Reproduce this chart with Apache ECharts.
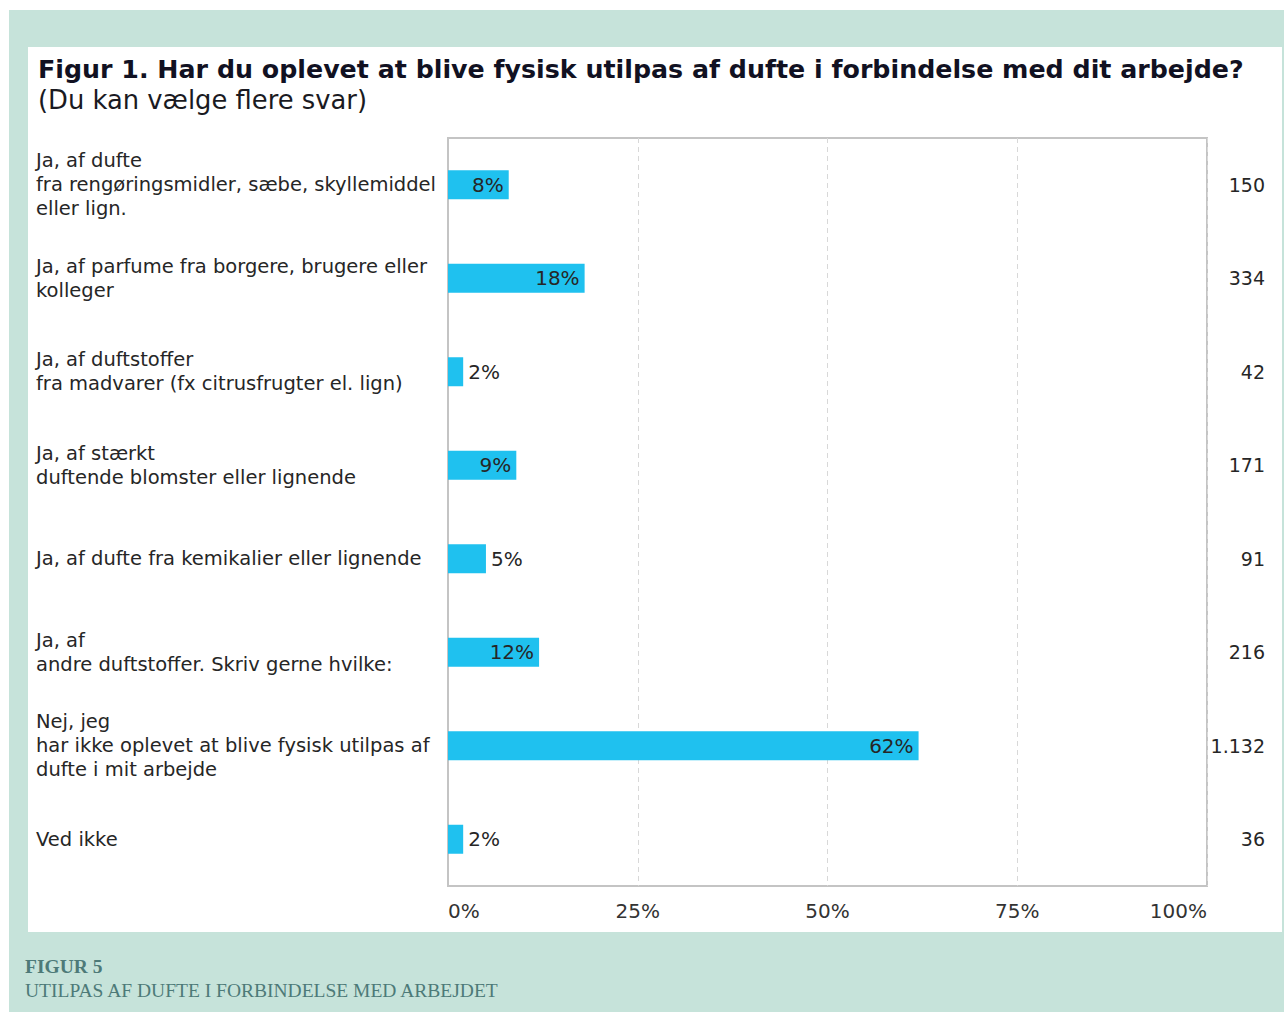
<!DOCTYPE html>
<html>
<head>
<meta charset="utf-8">
<script src="https://cdn.jsdelivr.net/npm/echarts@6/dist/echarts.min.js"></script>
<style>
  html, body { margin: 0; padding: 0; background: #ffffff; }
  #chart { width: 1284px; height: 1012px; }
</style>
</head>
<body>
<div id="chart"></div>
<script>
// Survey answers (several answers allowed)
const categories = [
  'Ja, af dufte\nfra rengøringsmidler, sæbe, skyllemiddel\neller lign.',
  'Ja, af parfume fra borgere, brugere eller\nkolleger',
  'Ja, af duftstoffer\nfra madvarer (fx citrusfrugter el. lign)',
  'Ja, af stærkt\nduftende blomster eller lignende',
  'Ja, af dufte fra kemikalier eller lignende',
  'Ja, af\nandre duftstoffer. Skriv gerne hvilke:',
  'Nej, jeg\nhar ikke oplevet at blive fysisk utilpas af\ndufte i mit arbejde',
  'Ved ikke'
];
// Share of respondents, percent
const percents = [8, 18, 2, 9, 5, 12, 62, 2];
// Number of respondents per answer
const counts = [150, 334, 42, 171, 91, 216, 1132, 36];
const xTicks = [0, 25, 50, 75, 100];

const titleText = 'Figur 1. Har du oplevet at blive fysisk utilpas af dufte i forbindelse med dit arbejde?';
const subtitleText = '(Du kan vælge flere svar)';
const captionHead = 'FIGUR 5';
const captionText = 'UTILPAS AF DUFTE I FORBINDELSE MED ARBEJDET';

const fmtCount = n => n.toLocaleString('da-DK');
const FONT = '"DejaVu Sans", Verdana, sans-serif';
const TEXT = '#262626';

const chart = echarts.init(document.getElementById('chart'), null, { renderer: 'svg' });

chart.setOption({
  animation: false,
  backgroundColor: '#ffffff',
  graphic: [
    { type: 'rect', z: -10, shape: { x: 9, y: 10, width: 1275, height: 1002 }, style: { fill: '#c6e3da' } },
    { type: 'rect', z: -9, shape: { x: 28, y: 47, width: 1254, height: 885 }, style: { fill: '#ffffff' } },
    { type: 'text', left: 38, top: 57, style: { text: titleText, font: 'bold 25.3px ' + FONT, fill: '#111122' } },
    { type: 'text', left: 38, top: 87, style: { text: subtitleText, font: '25.8px ' + FONT, fill: '#1a1a22' } },
    { type: 'text', left: 25, top: 956, style: { text: captionHead, font: 'bold 19.5px "Liberation Serif", Georgia, serif', fill: '#4d7a78' } },
    { type: 'text', left: 25, top: 980, style: { text: captionText, font: '19.5px "Liberation Serif", Georgia, serif', fill: '#4d7a78' } }
  ],
  grid: {
    left: 448, right: 77, top: 138, bottom: 126,
    show: true, borderColor: '#c4c4c4', borderWidth: 2, backgroundColor: 'transparent'
  },
  xAxis: {
    type: 'value', min: 0, max: 100, interval: 25,
    axisLine: { show: false },
    axisTick: { show: false },
    splitLine: { show: true, lineStyle: { color: '#d8d8d8', type: [5, 4], width: 1 } },
    axisLabel: {
      margin: 15, fontFamily: FONT, fontSize: 20, color: '#333333',
      alignMinLabel: 'left', alignMaxLabel: 'right',
      formatter: v => xTicks.includes(v) ? v + '%' : ''
    }
  },
  yAxis: [
    {
      type: 'category', inverse: true, data: categories,
      axisLine: { show: true, lineStyle: { color: '#c4c4c4', width: 2 } },
      axisTick: { show: false },
      axisLabel: {
        align: 'left', margin: 412, fontFamily: FONT, fontSize: 19.5,
        lineHeight: 24, color: TEXT
      }
    },
    {
      type: 'category', inverse: true, position: 'right',
      data: counts.map(fmtCount),
      axisLine: { show: false },
      axisTick: { show: false },
      axisLabel: {
        align: 'right', margin: 58, fontFamily: FONT, fontSize: 19, color: TEXT
      }
    }
  ],
  series: [{
    type: 'bar',
    yAxisIndex: 0,
    barWidth: 29,
    itemStyle: { color: '#1fc1ef' },
    data: percents.map(v => ({
      value: v,
      label: {
        show: true,
        position: v >= 8 ? 'insideRight' : 'right',
        distance: 5,
        formatter: '{c}%',
        fontFamily: FONT, fontSize: 20, color: TEXT
      }
    }))
  }]
});
</script>
</body>
</html>
